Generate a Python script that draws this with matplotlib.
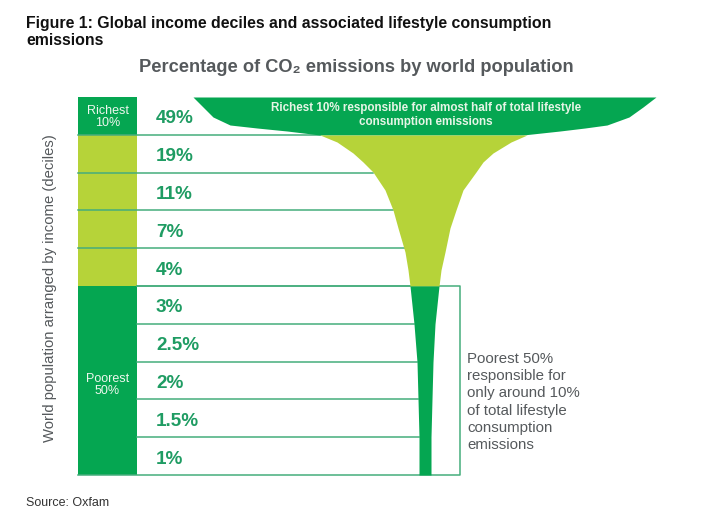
import matplotlib
matplotlib.use('Agg')
import matplotlib.pyplot as plt
from matplotlib.patches import Rectangle

plt.rcParams['font.family'] = ['Liberation Sans', 'DejaVu Sans']

# decile shares, richest first
shares = ['49%', '19%', '11%', '7%', '4%', '3%', '2.5%', '2%', '1.5%', '1%']

# funnel outline, everything in image pixels
top_y = [97, 107, 117, 125, 128, 131, 135]
top_left = [193, 203, 213, 230, 257, 287, 320]
top_right = [656, 643, 629, 607, 585, 560, 523]

mid_y = [135, 142, 153, 162, 172, 190, 210, 228, 252, 270, 286]
mid_left = [320, 337, 353, 363, 373, 385, 393, 398, 405, 408, 410]
mid_right = [527, 511, 493, 483, 476, 463, 456, 450, 445, 441, 439]

low_y = [286, 324, 362, 399, 437, 475]
low_left = [410, 414, 417, 418, 419, 419]
low_right = [439, 435, 433, 432, 431, 431]

dark = '#05a651'
light = '#b6d339'
line_col = '#45ad7c'
text_col = '#1f9c63'
grey = '#55595c'

row_top = 97
row_h = 37.8
col_left = 78
col_right = 137

fig = plt.figure(figsize=(7.2, 5.12), dpi=100)
ax = fig.add_axes([0, 0, 1, 1])
ax.set_xlim(0, 720)
ax.set_ylim(512, 0)
ax.axis('off')

# left column
for i in range(10):
    c = dark if i == 0 or i >= 5 else light
    ax.add_patch(Rectangle((col_left, row_top + i * row_h), col_right - col_left, row_h, color=c, lw=0))

# funnel
ax.fill_betweenx(top_y, top_left, top_right, color=dark, lw=0, zorder=3)
ax.fill_betweenx(mid_y, mid_left, mid_right, color=light, lw=0, zorder=3)
ax.fill_betweenx(low_y, low_left, low_right, color=dark, lw=0, zorder=3)

# row lines stop at the funnel, no lines over the dark part of the column
all_y = mid_y + low_y[1:]
all_left = mid_left + low_left[1:]
for i in range(1, 10):
    y = row_top + i * row_h
    end = min(zip(all_y, all_left), key=lambda p: abs(p[0] - y))[1]
    start = col_left if i < 5 else col_right
    ax.plot([start, end], [y, y], color=line_col, lw=1.1, zorder=2)

# box around the poorest half
bottom = row_top + 10 * row_h
ax.plot([col_right, 460, 460, col_left], [row_top + 5 * row_h, row_top + 5 * row_h, bottom, bottom],
        color=line_col, lw=1.1, zorder=2)

for i, s in enumerate(shares):
    ax.text(156, row_top + (i + 0.5) * row_h + 3, s, color=text_col, fontsize=13.6, fontweight='bold',
            va='center', ha='left')

ax.text(107.5, 117, 'Richest\n10%', color='#eef7ee', fontsize=9, ha='center', va='center', linespacing=0.95)
ax.text(107.5, 385, 'Poorest\n50%', color='#eef7ee', fontsize=9, ha='center', va='center', linespacing=0.95)
ax.text(426, 115, 'Richest 10% responsible for almost half of total lifestyle\nconsumption emissions',
        color='#e6f5e6', fontsize=8.35, fontweight='bold', ha='center', va='center', linespacing=1.23, zorder=4)

ax.text(50, 288, 'World population arranged by income (deciles)', color=grey, fontsize=10.75,
        rotation=90, ha='center', va='center')
ax.text(467, 402, 'Poorest 50%\nresponsible for\nonly around 10%\nof total lifestyle\nconsumption\nemissions',
        color=grey, fontsize=10.8, ha='left', va='center', linespacing=1.28)

ax.text(356, 67, 'Percentage of CO\u2082 emissions by world population', color=grey, fontsize=13.15,
        fontweight='bold', ha='center', va='center')
ax.text(26, 32, 'Figure 1: Global income deciles and associated lifestyle consumption\nemissions',
        color='#111111', fontsize=11.4, fontweight='bold', ha='left', va='center', linespacing=1.2)
ax.text(26, 503, 'Source: Oxfam', color='#333333', fontsize=9, ha='left', va='center')

fig.savefig('out.png', dpi=100)
